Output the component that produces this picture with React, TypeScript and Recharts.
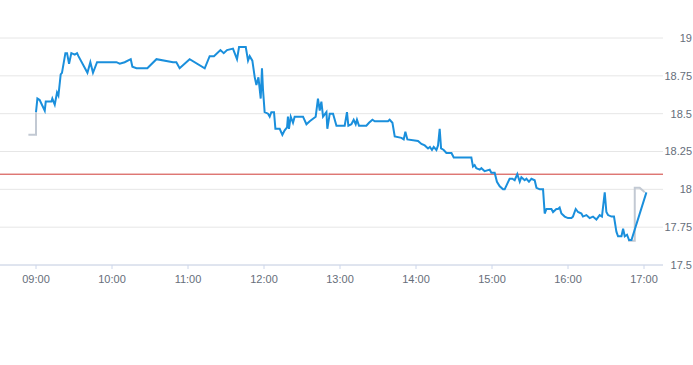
import { ComposedChart, Line, XAxis, YAxis, CartesianGrid, ReferenceLine } from "recharts"

// minutes after 09:00
const tradeMinutes = [
  0, 1.1, 2.9, 6.9, 7.7, 12.2, 12.9, 14.8, 16.6, 17.7, 19.5, 20.5, 23.2, 24.5, 26.1, 27.9, 30.6, 32.4, 33.5,
  40.6, 42.9, 45, 48.2, 63.5, 66.1, 70, 74.8, 76.1, 79.3, 87.9, 95.1, 108.2, 110.8, 113.4, 121.3, 133.2,
  137.1, 140.5, 145.6, 148.2, 150.8, 155.5, 158.7, 160.3, 165.6, 167.4, 168.7, 170.8, 172.7, 174, 175.6,
  177.4, 178.4, 179.2, 180.5, 183.2, 184.5, 185.8, 187.9, 189, 192.4, 194.5, 196.3, 198.2, 198.9, 199.7,
  201.1, 202.9, 204.2, 210.8, 213.5, 216.1, 220.8, 222.6, 224, 225.3, 226.6, 229.3, 230, 231.9, 234.5,
  237.2, 243.7, 245.5, 246.6, 249, 250.8, 252.4, 253.4, 255, 260.8, 262.9, 265.6, 267.4, 277.9, 279.2,
  281.4, 283.2, 288.5, 290.3, 291.6, 293.2, 301.6, 304.3, 306.9, 309.5, 311, 312.6, 314, 316.1, 317.4,
  318.7, 319.8, 321.9, 324, 328, 329.8, 343.7, 345, 346.3, 347.6, 350.3, 351.6, 354.2, 358.2, 359.5,
  362.1, 363.9, 366.1, 368.7, 370, 373.9, 376.1, 377.9, 380, 381.9, 383.2, 385.8, 387.2, 389.2, 391.1,
  393.7, 395.1, 397.7, 400.3, 401.6, 403, 406.9, 408.2, 410.8, 412.1, 413.4, 414.8, 417.4, 420, 422.7,
  423.9, 426.1, 427.9, 430.6, 431.8, 434.5, 437.1, 439.7, 442.4, 445, 446.8, 449, 450.3, 451.6, 454.3,
  456.3, 458.2, 459.5, 462.2, 463.5, 464.8, 466.6, 468.2, 470.1, 481.9,
]

const tradePrices = [
  18.51, 18.6, 18.59, 18.52, 18.58, 18.58, 18.6, 18.56, 18.64, 18.62, 18.76, 18.77, 18.9, 18.9, 18.83, 18.9, 18.89, 18.9, 18.88,
  18.77, 18.84, 18.77, 18.84, 18.84, 18.83, 18.84, 18.86, 18.81, 18.8, 18.8, 18.86, 18.84, 18.84, 18.8, 18.86, 18.8,
  18.88, 18.88, 18.92, 18.9, 18.92, 18.93, 18.86, 18.94, 18.94, 18.85, 18.88, 18.85, 18.74, 18.69, 18.74,
  18.6, 18.8, 18.66, 18.51, 18.5, 18.48, 18.51, 18.51, 18.4, 18.4, 18.36, 18.39, 18.41, 18.48, 18.4,
  18.48, 18.44, 18.48, 18.48, 18.43, 18.45, 18.48, 18.6, 18.52, 18.58, 18.48, 18.51, 18.4, 18.5, 18.5,
  18.42, 18.42, 18.51, 18.42, 18.43, 18.46, 18.43, 18.46, 18.42, 18.42, 18.44, 18.46, 18.45, 18.45, 18.46,
  18.44, 18.35, 18.34, 18.33, 18.38, 18.33, 18.32, 18.3, 18.29, 18.27, 18.28, 18.26, 18.28, 18.26, 18.29,
  18.4, 18.27, 18.26, 18.24, 18.24, 18.21, 18.21, 18.15, 18.16, 18.14, 18.13, 18.14, 18.12, 18.13, 18.11,
  18.11, 18.05, 18.02, 18.0, 18.0, 18.07, 18.07, 18.06, 18.1, 18.05, 18.08, 18.06, 18.07, 18.05, 18.07,
  18.06, 18.01, 18.0, 18.0, 17.84, 17.87, 17.87, 17.85, 17.87, 17.87, 17.88, 17.84, 17.82, 17.81, 17.81,
  17.82, 17.87, 17.85, 17.84, 17.82, 17.83, 17.81, 17.82, 17.8, 17.83, 17.82, 17.98, 17.85, 17.83, 17.82,
  17.82, 17.72, 17.69, 17.69, 17.74, 17.69, 17.7, 17.665, 17.665, 17.98,
]

// pre / post session (grey)
const extMinutes = [-6, 0, 0, 467.4, 472.7, 472.7, 476.6, 480.6]
const extPrices = [18.36, 18.36, 18.51, 17.66, 17.66, 18.01, 18.01, 17.98]
const extSegment = [0, 0, 0, 1, 1, 1, 1, 1]

const hourTicks = [0, 60, 120, 180, 240, 300, 360, 420, 480]
const hourLabels = ["09:00", "10:00", "11:00", "12:00", "13:00", "14:00", "15:00", "16:00", "17:00"]
const priceTicks = [17.5, 17.75, 18, 18.25, 18.5, 18.75, 19]
const previousClose = 18.1

const tradeData = tradeMinutes.map((t, i) => ({ t, price: tradePrices[i] }))
const preData = extMinutes.map((t, i) => ({ t, ext: extPrices[i] })).filter((_, i) => extSegment[i] === 0)
const postData = extMinutes.map((t, i) => ({ t, ext: extPrices[i] })).filter((_, i) => extSegment[i] === 1)

const labelFont = "'Liberation Sans', Arial, sans-serif"
const labelColor = "#666e7a"

const PriceTick = ({ y, payload }) => (
  <text x={694} y={y} dy="0.355em" textAnchor="end" fontSize={11} fill={labelColor} fontFamily={labelFont}>
    {payload.value}
  </text>
)

const App = () => {

  return (

    <div style={{ position: "absolute", left: -2, top: 0 }}>

      <ComposedChart width={695} height={365} margin={{ top: 38, right: 0, bottom: 0, left: 0 }}>

        <CartesianGrid horizontal vertical={false} stroke="#e6e6e6" />

        <XAxis
          type="number"
          dataKey="t"
          domain={[-30, 495]}
          ticks={hourTicks}
          tickFormatter={(v) => hourLabels[hourTicks.indexOf(v)]}
          height={100}
          stroke="#ccd6eb"
          tickSize={4}
          tickMargin={6}
          tick={{ fill: labelColor, fontSize: 11, fontFamily: labelFont }}
          allowDuplicatedCategory={false}
        />

        <YAxis
          orientation="right"
          domain={[17.5, 19]}
          ticks={priceTicks}
          width={30}
          axisLine={false}
          tickLine={false}
          tick={PriceTick}
        />

        <ReferenceLine y={previousClose} stroke="#cf3a36" strokeWidth={1} />

        <Line data={preData} dataKey="ext" type="linear" stroke="#c2c9d3" strokeWidth={2} dot={false} isAnimationActive={false} />
        <Line data={postData} dataKey="ext" type="linear" stroke="#c2c9d3" strokeWidth={2} dot={false} isAnimationActive={false} />
        <Line data={tradeData} dataKey="price" type="linear" stroke="#1a8fdc" strokeWidth={2} dot={false} isAnimationActive={false} />

      </ComposedChart>

    </div>

  )

}

export default App
